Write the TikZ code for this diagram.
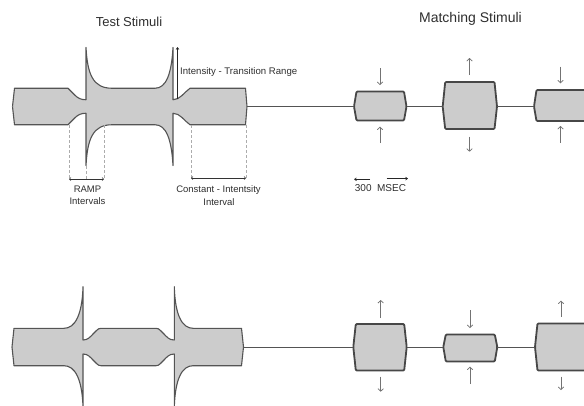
\documentclass[tikz,border=0pt]{standalone}
\usepackage{fontspec}
\setmainfont{Liberation Sans}
\usetikzlibrary{arrows.meta}
\definecolor{stimfill}{gray}{0.80}
\definecolor{stimline}{gray}{0.33}
\definecolor{boxline}{gray}{0.28}
\definecolor{arrowcol}{gray}{0.45}
\definecolor{txt}{gray}{0.18}
\newcommand\matchbox[6]{% name, x1, x2, top, bottom, cy
  \draw[mbox] ({#2+2.5},#4) -- ({#3-2.5},#4) -- (#3,#6) -- ({#3-2.5},#5)
     -- ({#2+2.5},#5) -- (#2,#6) -- cycle;
  \coordinate (#1-w) at (#2,#6);
  \coordinate (#1-e) at (#3,#6);
}
\newcommand\varrow[4]{% name, x, from y, tip y
  \coordinate (#1-s) at (#2,#3);
  \coordinate (#1-t) at (#2,#4);
  \draw[marrow] (#1-s) -- (#1-t);
}
\begin{document}
\begin{tikzpicture}[x=1pt,y=-1pt,
  stimedge/.style={draw=stimline,line width=1.1pt,line join=round},
  mbox/.style={draw=boxline,fill=stimfill,line width=1.8pt,rounded corners=1pt,line join=round},
  conn/.style={draw=stimline,line width=1pt},
  marrow/.style={draw=arrowcol,line width=0.75pt,-{Straight Barb[length=2.5pt,width=5.5pt]}},
  guide/.style={draw=gray!65,line width=0.8pt,dash pattern=on 3pt off 2pt},
  bracket/.style={draw=gray!40!black,line width=0.6pt,{Straight Barb[length=1.5pt,width=3pt]}-{Straight Barb[length=1.5pt,width=3pt]}},
  thinarrow/.style={draw=gray!30!black,line width=0.6pt,-{Straight Barb[length=2pt,width=3pt]}},
  lbl/.style={text=txt,inner sep=0pt,font=\fontsize{9.5}{10}\selectfont},
  title/.style={text=txt,inner sep=0pt,font=\fontsize{13}{14}\selectfont},
  topup/.style={insert path={(12.5,0) -- (14.5,-18.25) -- (68,-18.25) -- (75,-11.25)
     .. controls (78,-8.25) and (81,-6.75) .. (86,-6.75) -- (86,-59)
     .. controls (87.5,-32) and (93,-18.25) .. (112,-18.25) -- (155,-18.25)
     .. controls (166,-18.25) and (171.5,-32) .. (173,-59) -- (173,-6.75)
     .. controls (180,-6.75) and (184,-14) .. (190,-18.25) -- (245.5,-18.25) -- (247,0)}},
  botup/.style={insert path={(12,0) -- (14,-18.7) -- (64,-18.7)
     .. controls (75,-18.7) and (82.2,-32) .. (83,-60.3) -- (83,-7)
     .. controls (88,-7) and (90,-10) .. (93,-13) -- (96.5,-16.5)
     .. controls (98,-18) and (99,-18.7) .. (101,-18.7) -- (156,-18.7)
     .. controls (158,-18.7) and (159,-18) .. (160.5,-16.5) -- (164,-13)
     .. controls (167,-10) and (169,-7) .. (174.3,-7) -- (174.3,-60.3)
     .. controls (175.1,-32) and (182,-18.7) .. (193,-18.7) -- (241.5,-18.7) -- (243.5,0)}}
]
\useasboundingbox (0,0) rectangle (584,405);
\clip (0,0) rectangle (584,405);

% ---- test stimulus, top row
\begin{scope}[shift={(0,106.5)}]
  \fill[stimfill,topup] -- (247,1) -- (12.5,1) -- cycle;
  \begin{scope}[yscale=-1]
    \fill[stimfill,topup] -- (247,1) -- (12.5,1) -- cycle;
    \draw[stimedge,topup];
  \end{scope}
  \draw[stimedge,topup];
\end{scope}
\coordinate (testTopE) at (247,106.5);

% ---- test stimulus, bottom row
\begin{scope}[shift={(0,347)}]
  \fill[stimfill,botup] -- (243.5,1) -- (12,1) -- cycle;
  \begin{scope}[yscale=-1]
    \fill[stimfill,botup] -- (243.5,1) -- (12,1) -- cycle;
    \draw[stimedge,botup];
  \end{scope}
  \draw[stimedge,botup];
\end{scope}
\coordinate (testBotE) at (243.5,347);

% ---- matching boxes
\matchbox{ma}{354}{406.5}{91.5}{120.5}{106.5}
\matchbox{mb}{442.7}{497}{82}{129}{106.5}
\matchbox{mc}{534}{610}{90}{121}{106.5}
\matchbox{na}{353.3}{406.7}{324}{370.5}{347}
\matchbox{nb}{443.3}{497.3}{334.5}{361.5}{347}
\matchbox{nc}{535}{610}{323.5}{370.5}{347}

\draw[conn] (testTopE) -- (ma-w);
\draw[conn] (ma-e) -- (mb-w);
\draw[conn] (mb-e) -- (mc-w);
\draw[conn] (testBotE) -- (na-w);
\draw[conn] (na-e) -- (nb-w);
\draw[conn] (nb-e) -- (nc-w);

% ---- arrows on matching stimuli
\varrow{a1}{380}{68}{85}
\varrow{a2}{380}{143}{126.7}
\varrow{a3}{469.5}{75}{58}
\varrow{a4}{469.5}{136.7}{151.7}
\varrow{a5}{560.5}{66.7}{83.3}
\varrow{a6}{560.5}{142.7}{126}
\varrow{b1}{380.7}{318}{300}
\varrow{b2}{380.7}{376.7}{391.7}
\varrow{b3}{470}{310}{328}
\varrow{b4}{470}{384}{366.7}
\varrow{b5}{561}{316.7}{300.7}
\varrow{b6}{561}{376.7}{390}

% ---- guides
\coordinate (r1) at (69,125);    \coordinate (r1b) at (69,179);
\coordinate (r2) at (86,166);    \coordinate (r2b) at (86,179);
\coordinate (r3) at (104,125);   \coordinate (r3b) at (104,179);
\coordinate (c1) at (191,125);   \coordinate (c1b) at (191,178);
\coordinate (c2) at (246,125);   \coordinate (c2b) at (246,178);
\draw[guide] (r1) -- (r1b);
\draw[guide] (r2) -- (r2b);
\draw[guide] (r3) -- (r3b);
\draw[guide] (c1) -- (c1b);
\draw[guide] (c2) -- (c2b);
\draw[bracket] (r1b) -- (r3b);
\draw[bracket] (c1b) -- (c2b);

\coordinate (itA) at (177.5,99);
\coordinate (itB) at (177.5,47);
\draw[thinarrow] (itA) -- (itB);

\coordinate (msL1) at (370,179.3); \coordinate (msL2) at (354,179.3);
\coordinate (msR1) at (386.7,178.6); \coordinate (msR2) at (408,178.6);
\draw[thinarrow] (msL1) -- (msL2);
\draw[thinarrow] (msR1) -- (msR2);

% ---- texts
\node[title] (tTest) at (129,21.7) {Test Stimuli};
\node[title,font=\fontsize{14}{15}\selectfont] (tMatch) at (470.5,19.3) {Matching Stimuli};
\node[lbl,anchor=west,font=\fontsize{9.6}{10}\selectfont] (tITR) at (180,71.7) {Intensity - Transition Range};
\node[lbl] (tRamp) at (87.5,189.5) {RAMP};
\node[lbl] (tIntv) at (87.5,201.5) {Intervals};
\node[lbl] (tConst) at (218.5,190) {Constant - Intentsity};
\node[lbl] (tInt) at (219,201.7) {Interval};
\node[lbl,font=\fontsize{10}{11}\selectfont] (tMs) at (380.5,188) {300\ \ MSEC};
\end{tikzpicture}
\end{document}
